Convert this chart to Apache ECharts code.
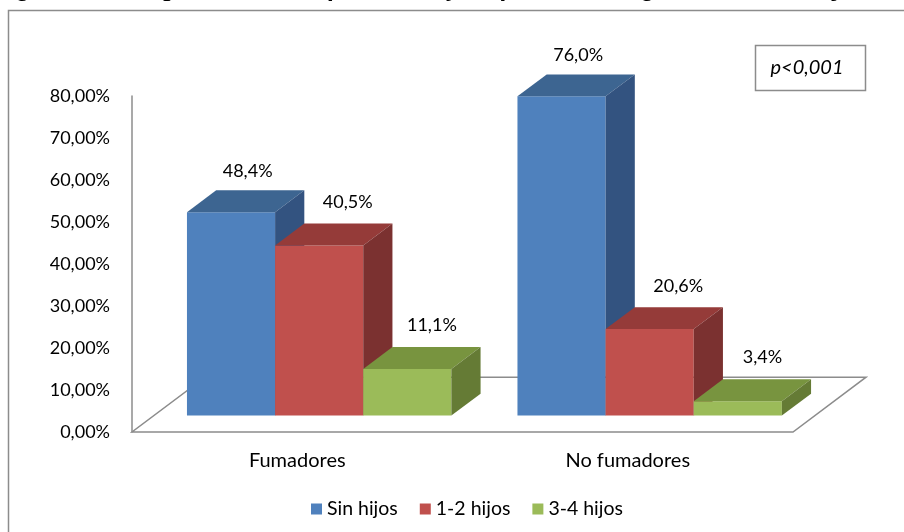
<!DOCTYPE html>
<html>
<head>
<meta charset="utf-8">
<script src="https://cdn.jsdelivr.net/npm/echarts@6/dist/echarts.min.js"></script>
<style>
  html, body { margin: 0; padding: 0; background: #fff; }
  #chart { width: 904px; height: 532px; }
</style>
</head>
<body>
<div id="chart"></div>
<script>
// Smokers vs non-smokers by number of children (percent of each group)
const categories = ['Fumadores', 'No fumadores'];
const seriesNames = ['Sin hijos', '1-2 hijos', '3-4 hijos'];
const sinHijos = [48.4, 76.0];
const unoDosHijos = [40.5, 20.6];
const tresCuatroHijos = [11.1, 3.4];
const yMin = 0, yMax = 80, yStep = 10;
const captionText = 'Figura 15. Comparación entre fumadores y no fumadores según número de hijos';
const pText = 'p<0,001';

// face shades: front, top, side
const palette = [
  { front: '#4F81BD', top: '#3D6591', side: '#335380' },
  { front: '#C0504D', top: '#953B39', side: '#7B3130' },
  { front: '#9BBB59', top: '#78943F', side: '#657B35' }
];
const seriesValues = [sinHijos, unoDosHijos, tresCuatroHijos];
// value-label nudges per series (px), so labels clear the bar tops
const labelShift = [[2, -19], [14, -21], [10, -22]];

const FONT = 'Lato, "Open Sans", sans-serif';

// 3D projection settings (fractions of a category band)
const DEPTH_X = 0.221;      // floor depth, horizontal share of band
const DEPTH_SLOPE = 0.75;   // vertical rise per horizontal depth unit
const GROUP_SHARE = 0.8;    // portion of band used by the bar group
const BAR_FRONT = 0.3, BAR_BACK = 0.7; // bar placement within floor depth

function fmtPct(v) { return v.toFixed(1).replace('.', ',') + '%'; }

function barRenderer(idx) {
  const c = palette[idx];
  const shift = labelShift[idx];
  return function (params, api) {
    const cat = api.value(0), val = api.value(1);
    const base = api.coord([cat, 0]);
    const top = api.coord([cat, val]);
    const band = api.size([1, 0])[0];
    const dx = band * DEPTH_X, dy = -dx * DEPTH_SLOPE;
    const bw = band * GROUP_SHARE / 3;
    const x0 = base[0] - band * GROUP_SHARE / 2 + idx * bw + BAR_FRONT * dx;
    const yb = base[1] + BAR_FRONT * dy;
    const yt = top[1] + BAR_FRONT * dy;
    const bdx = (BAR_BACK - BAR_FRONT) * dx, bdy = (BAR_BACK - BAR_FRONT) * dy;
    return {
      type: 'group',
      children: [
        { type: 'rect', shape: { x: x0, y: yt, width: bw, height: yb - yt },
          style: { fill: c.front } },
        { type: 'polygon', shape: { points: [[x0, yt], [x0 + bw, yt], [x0 + bw + bdx, yt + bdy], [x0 + bdx, yt + bdy]] },
          style: { fill: c.top } },
        { type: 'polygon', shape: { points: [[x0 + bw, yt], [x0 + bw + bdx, yt + bdy], [x0 + bw + bdx, yb + bdy], [x0 + bw, yb]] },
          style: { fill: c.side } },
        { type: 'text', style: { text: fmtPct(val), x: x0 + bw / 2 + bdx / 2 + shift[0], y: yt + bdy + shift[1],
            align: 'center', verticalAlign: 'middle', font: '18px ' + FONT, fill: '#000' } }
      ]
    };
  };
}

function floorRenderer(params, api) {
  const left = api.coord([0, 0]);
  const right = api.coord([categories.length - 1, 0]);
  const band = api.size([1, 0])[0];
  const dx = band * DEPTH_X, dy = -dx * DEPTH_SLOPE;
  const l = left[0] - band / 2, r = right[0] + band / 2, y = left[1];
  return {
    type: 'polygon',
    shape: { points: [[l, y], [r, y], [r + dx, y + dy], [l + dx, y + dy]] },
    style: { fill: 'none', stroke: '#8C8C8C', lineWidth: 1.5 }
  };
}

const chart = echarts.init(document.getElementById('chart'), null, { renderer: 'canvas' });

const series = [{
  type: 'custom',
  name: 'floor',
  renderItem: floorRenderer,
  data: [[0, 0]],
  encode: { x: 0, y: 1 },
  silent: true,
  z: 1
}];
seriesNames.forEach(function (name, i) {
  series.push({
    type: 'custom',
    name: name,
    renderItem: barRenderer(i),
    data: categories.map(function (_, k) { return [k, seriesValues[i][k]]; }),
    encode: { x: 0, y: 1 },
    itemStyle: { color: palette[i].front },
    z: 2 + i
  });
});

chart.setOption({
  animation: false,
  backgroundColor: '#fff',
  grid: { left: 132, right: 111, top: 96, bottom: 100 },
  xAxis: {
    type: 'category',
    data: categories,
    axisLine: { show: false },
    axisTick: { show: false },
    axisLabel: { color: '#000', fontSize: 20, fontFamily: FONT, margin: 19 }
  },
  yAxis: {
    type: 'value',
    min: yMin, max: yMax, interval: yStep,
    axisLine: { show: true, lineStyle: { color: '#8C8C8C', width: 1.5 } },
    axisTick: { show: false },
    splitLine: { show: false },
    axisLabel: { color: '#000', fontSize: 18, fontFamily: FONT, margin: 22,
      formatter: function (v) { return v.toFixed(2).replace('.', ',') + '%'; } }
  },
  legend: {
    data: seriesNames,
    top: 494,
    left: 306,
    icon: 'rect',
    itemWidth: 11, itemHeight: 11,
    itemGap: 22,
    textStyle: { color: '#000', fontSize: 19.5, fontFamily: FONT }
  },
  graphic: [
    { type: 'rect', shape: { x: 8.5, y: 10.5, width: 1000, height: 600 },
      style: { fill: 'none', stroke: '#8C8C8C', lineWidth: 1.5 }, z: 0, silent: true },
    { type: 'text', style: { text: captionText, x: -6, y: 1.8, verticalAlign: 'bottom',
        font: 'italic bold 26px "Liberation Serif", serif', fill: '#000' }, z: 0, silent: true },
    { type: 'rect', shape: { x: 755.5, y: 45.5, width: 110, height: 45 },
      style: { fill: '#fff', stroke: '#8C8C8C', lineWidth: 1.5 }, z: 5, silent: true },
    { type: 'text', style: { text: pText, x: 807, y: 68, align: 'center', verticalAlign: 'middle',
        font: 'italic 20px ' + FONT, fill: '#000' }, z: 6, silent: true }
  ],
  series: series
});
</script>
</body>
</html>
